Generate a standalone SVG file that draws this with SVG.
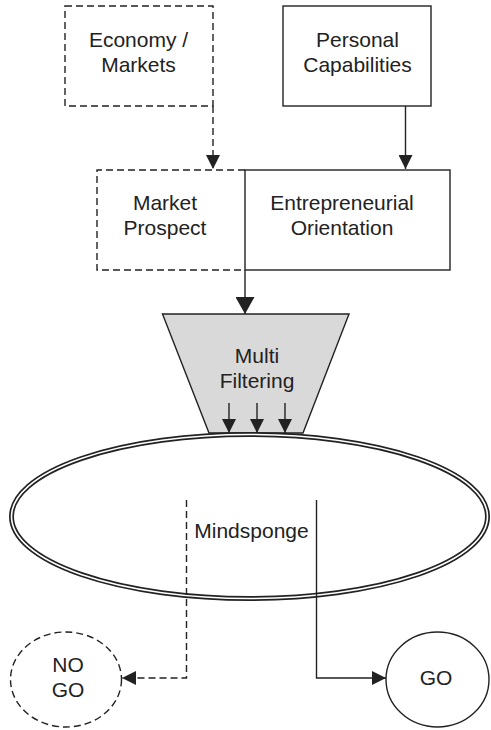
<svg xmlns="http://www.w3.org/2000/svg" width="491" height="730" viewBox="0 0 491 730">
<style>
text{font-family:"Liberation Sans",Arial,sans-serif;font-size:21px;fill:#222;text-anchor:middle}
.s{fill:none;stroke:#222;stroke-width:1.4}
.d{fill:none;stroke:#222;stroke-width:1.4;stroke-dasharray:7 4}
</style>
<defs>
<marker id="a" markerUnits="userSpaceOnUse" markerWidth="14" markerHeight="14" viewBox="0 0 14 14" refX="14" refY="7" orient="auto"><path d="M0,0 L14,7 L0,14 Z" fill="#222"/></marker>
<marker id="b" markerUnits="userSpaceOnUse" markerWidth="17" markerHeight="19" viewBox="0 0 17 19" refX="17" refY="9.5" orient="auto"><path d="M0,0 L17,9.5 L0,19 Z" fill="#222"/></marker>
</defs>
<rect width="491" height="730" fill="#fff"/>
<g id="economy"><rect class="d" x="65" y="6" width="148" height="100"/><text x="138.5" y="47">Economy /</text><text x="138.5" y="72">Markets</text></g>
<g id="personal"><rect class="s" x="283" y="6" width="148" height="100"/><text x="357.5" y="47">Personal</text><text x="357.5" y="72">Capabilities</text></g>
<g id="market"><path class="d" d="M245,170 H97 V270 H245"/><text x="165" y="210">Market</text><text x="165" y="235">Prospect</text></g>
<g id="entre"><rect class="s" x="245" y="170" width="205" height="100"/><text x="342" y="210">Entrepreneurial</text><text x="342" y="235">Orientation</text></g>
<g id="filter"><path d="M162.5,314 H349 L303,433 H209 Z" fill="#d9d9d9" stroke="#222" stroke-width="1.4"/><text x="257" y="363">Multi</text><text x="257" y="388">Filtering</text></g>
<g id="mindsponge"><ellipse cx="249.5" cy="516.5" rx="238" ry="82" fill="none" stroke="#222" stroke-width="5"/><ellipse cx="249.5" cy="516.5" rx="238" ry="82" fill="none" stroke="#fff" stroke-width="1.6"/><text x="251.5" y="538">Mindsponge</text></g>
<g id="nogo"><ellipse class="d" cx="66" cy="679.5" rx="55.5" ry="47.5"/><text x="68" y="672">NO</text><text x="68" y="697">GO</text></g>
<g id="go"><ellipse class="s" cx="437.5" cy="679.5" rx="51.5" ry="47.5"/><text x="436" y="685">GO</text></g>
<g id="connectors">
<path class="d" d="M213,106 V169" marker-end="url(#a)"/>
<path class="s" d="M405.5,106 V169" marker-end="url(#a)"/>
<path class="s" d="M245,270 V314" marker-end="url(#b)"/>
<path class="s" d="M229,403 V433" marker-end="url(#a)"/>
<path class="s" d="M257,403 V433" marker-end="url(#a)"/>
<path class="s" d="M285,403 V433" marker-end="url(#a)"/>
<path class="d" d="M186.5,500 V678 H122" marker-end="url(#a)"/>
<path class="s" d="M316.5,500 V678 H386" marker-end="url(#a)"/>
</g>
</svg>
